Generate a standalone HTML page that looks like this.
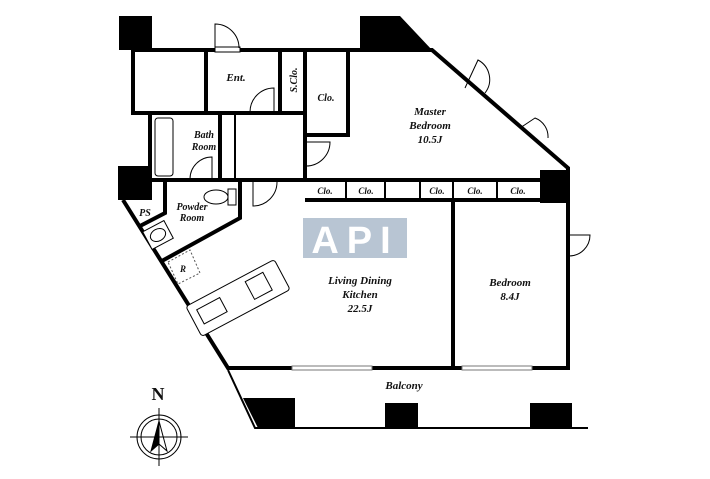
<!DOCTYPE html>
<html><head><meta charset="utf-8"><style>
html,body{margin:0;padding:0;background:#fff;}
svg{display:block;}
text{font-family:"Liberation Serif",serif;font-style:italic;font-weight:bold;fill:#111;}
</style></head><body>
<svg width="710" height="479" viewBox="0 0 710 479" xmlns="http://www.w3.org/2000/svg">
<g fill="#000">
<rect x="119" y="16" width="33" height="34"/>
<polygon points="360,16 400,16 432,50 360,50"/>
<rect x="118" y="166" width="34" height="34"/>
<rect x="540" y="170" width="28" height="33"/>
<polygon points="243,398 295,398 295,428 258,428"/>
<rect x="385" y="403" width="33" height="25"/>
<rect x="530" y="403" width="42" height="25"/>
</g>
<g stroke="#000" fill="none" stroke-width="4">
<path d="M133,50 H432 L568,168 V368 H228 L123,200"/>
<path d="M133,50 V113 H305"/>
<path d="M206,50 V113"/>
<path d="M280,50 V113"/>
<path d="M305,50 V180"/>
<path d="M305,135 H348 V50"/>
<path d="M150,113 V180 H305"/>
<path d="M220,113 V180"/>
<path d="M305,180 H540"/>
<path d="M305,200 H540"/>
<path d="M453,200 V368"/>
<path d="M165,180 V213 L140,226"/>
<path d="M240,180 V218 L160,262"/>
</g>
<g stroke="#000" stroke-width="2" fill="none">
<path d="M235,113 V180"/>
<path d="M346,180 V200 M385,180 V200 M420,180 V200 M453,180 V200 M497,180 V200"/>
<path d="M228,370 L255,428 H588"/>
</g>
<!-- windows on bottom wall -->
<g fill="#fff" stroke="#777" stroke-width="1">
<rect x="292" y="366" width="80" height="4"/>
<rect x="462" y="366" width="70" height="4"/>
</g>
<!-- doors -->
<g stroke="#000" stroke-width="1" fill="#fff">
<rect x="215" y="47" width="25" height="5"/>
<path d="M215,48 V24 A24,24 0 0 1 239,48" fill="none"/>
<path d="M250,112 A24,24 0 0 1 274,88 V112" fill="none"/>
<path d="M306,142 H330 A24,24 0 0 1 306,166" fill="none"/>
<path d="M253,182 V206 A24,24 0 0 0 277,182" fill="none"/>
<path d="M190,179 A22,22 0 0 1 212,157 V179" fill="none"/>
<path d="M569,235 H590 A21,21 0 0 1 569,256" fill="none"/>
<path d="M465,88 L478,60 A22,22 0 0 1 485,93" fill="none"/>
<path d="M520,128 L535,118 A20,20 0 0 1 548,138" fill="none"/>
<rect x="155" y="118" width="18" height="58" rx="3"/>
<ellipse cx="216" cy="197" rx="12" ry="7"/>
<rect x="228" y="189" width="8" height="16"/>
<g transform="translate(158,235) rotate(-28)"><rect x="-12" y="-10" width="24" height="20"/><ellipse cx="0" cy="0" rx="8" ry="6"/></g>
<g transform="translate(238,298) rotate(-28)"><rect x="-50" y="-17" width="100" height="34" rx="3"/><rect x="-42" y="-9" width="26" height="16"/><rect x="14" y="-11" width="20" height="20"/></g>
</g>
<polygon points="168,262 190,250 200,273 178,284" fill="none" stroke="#555" stroke-dasharray="2,2"/>
<rect x="303" y="218" width="104" height="40" fill="#b8c5d3"/>
<text x="355" y="253" text-anchor="middle" style="font-family:'Liberation Sans',sans-serif;font-style:normal;font-size:38px;fill:#fff;letter-spacing:8px">API</text>
<g font-size="11">
<text x="236" y="81" text-anchor="middle">Ent.</text>
<text x="297" y="80" text-anchor="middle" font-size="10" transform="rotate(-90 297 80)">S.Clo.</text>
<text x="326" y="101" text-anchor="middle" font-size="10">Clo.</text>
<text x="430" y="115" text-anchor="middle">Master</text>
<text x="430" y="129" text-anchor="middle">Bedroom</text>
<text x="430" y="143" text-anchor="middle">10.5J</text>
<text x="204" y="138" text-anchor="middle" font-size="10">Bath</text>
<text x="204" y="150" text-anchor="middle" font-size="10">Room</text>
<text x="192" y="210" text-anchor="middle" font-size="10">Powder</text>
<text x="192" y="221" text-anchor="middle" font-size="10">Room</text>
<text x="145" y="216" text-anchor="middle" font-size="10">PS</text>
<text x="183" y="272" text-anchor="middle" font-size="9">R</text>
<g font-size="9" text-anchor="middle"><text x="325" y="194">Clo.</text><text x="366" y="194">Clo.</text><text x="437" y="194">Clo.</text><text x="475" y="194">Clo.</text><text x="518" y="194">Clo.</text></g>
<text x="360" y="284" text-anchor="middle">Living Dining</text>
<text x="360" y="298" text-anchor="middle">Kitchen</text>
<text x="360" y="312" text-anchor="middle">22.5J</text>
<text x="510" y="286" text-anchor="middle">Bedroom</text>
<text x="510" y="300" text-anchor="middle">8.4J</text>
<text x="404" y="389" text-anchor="middle">Balcony</text>
</g>
<text x="158" y="400" text-anchor="middle" style="font-style:normal;font-size:18px">N</text>
<g stroke="#000" fill="none" stroke-width="1">
<circle cx="159" cy="437" r="22"/><circle cx="159" cy="437" r="18"/>
<path d="M130,437 H188 M159,408 V466"/>
<polygon points="159,421 151,451 159,444" fill="#000"/>
<polygon points="159,421 167,451 159,444"/>
</g>
</svg>
</body></html>
